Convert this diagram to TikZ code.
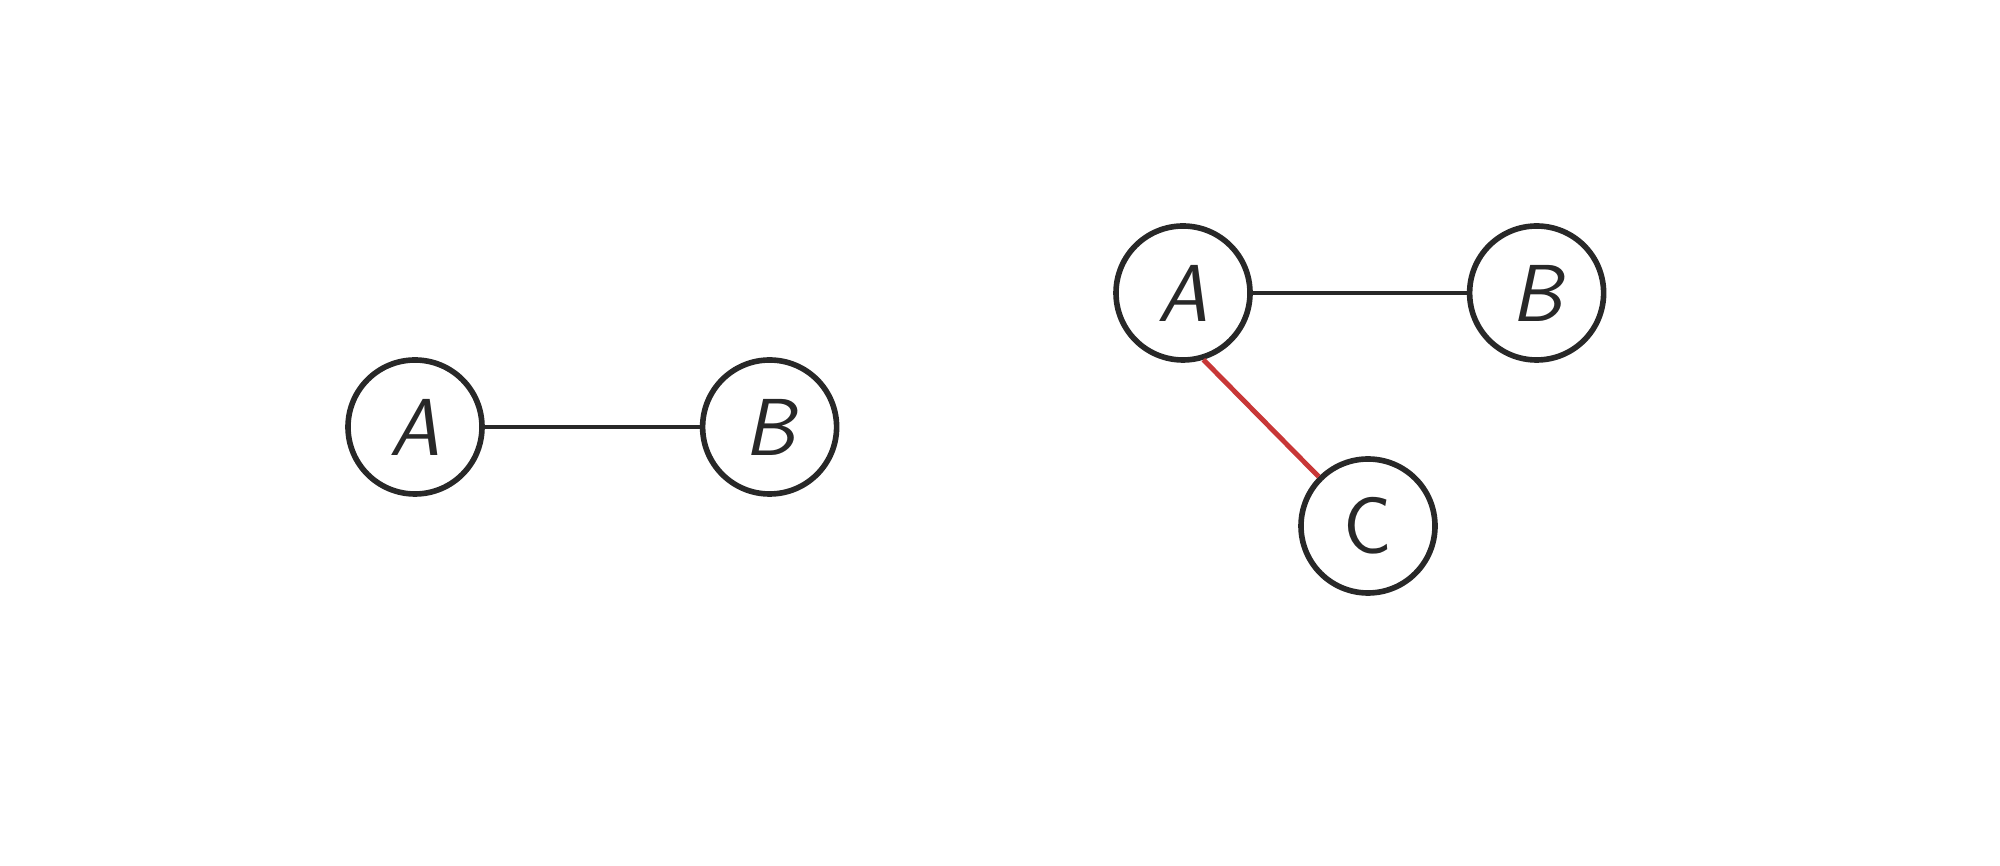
\documentclass[tikz,border=0pt]{standalone}
\usepackage{fontspec}
\usepackage{tikz}
\usetikzlibrary{positioning}
\usepackage{xcolor}
\definecolor{ink}{RGB}{40,40,40}
\definecolor{qred}{RGB}{200,55,55}

\begin{document}
\begin{tikzpicture}[every node/.style={font=\fontsize{23}{23}\selectfont\sffamily\slshape},
  vertex/.style={circle,draw=ink,line width=1.6pt,minimum size=1.34cm,inner sep=0pt,text=ink},
  edge/.style={ink,line width=1.4pt}]
  \useasboundingbox (0,0) rectangle (20,8.66);
  % left graph
  \node[vertex] (lA) at (4.15,4.39) {A};
  \node[vertex,right=2.15cm of lA] (lB) {B};
  \draw[edge] (lA)--(lB);
  % right graph
  \node[vertex] (rA) at (11.83,5.73) {A};
  \node[vertex,right=2.14cm of rA] (rB) {B};
  \node[vertex] (rC) at (13.68,3.40) {\upshape C};
  \draw[edge] (rA)--(rB);
  \draw[qred,line width=1.4pt] (rA.-73)--(rC.135);
\end{tikzpicture}
\end{document}
